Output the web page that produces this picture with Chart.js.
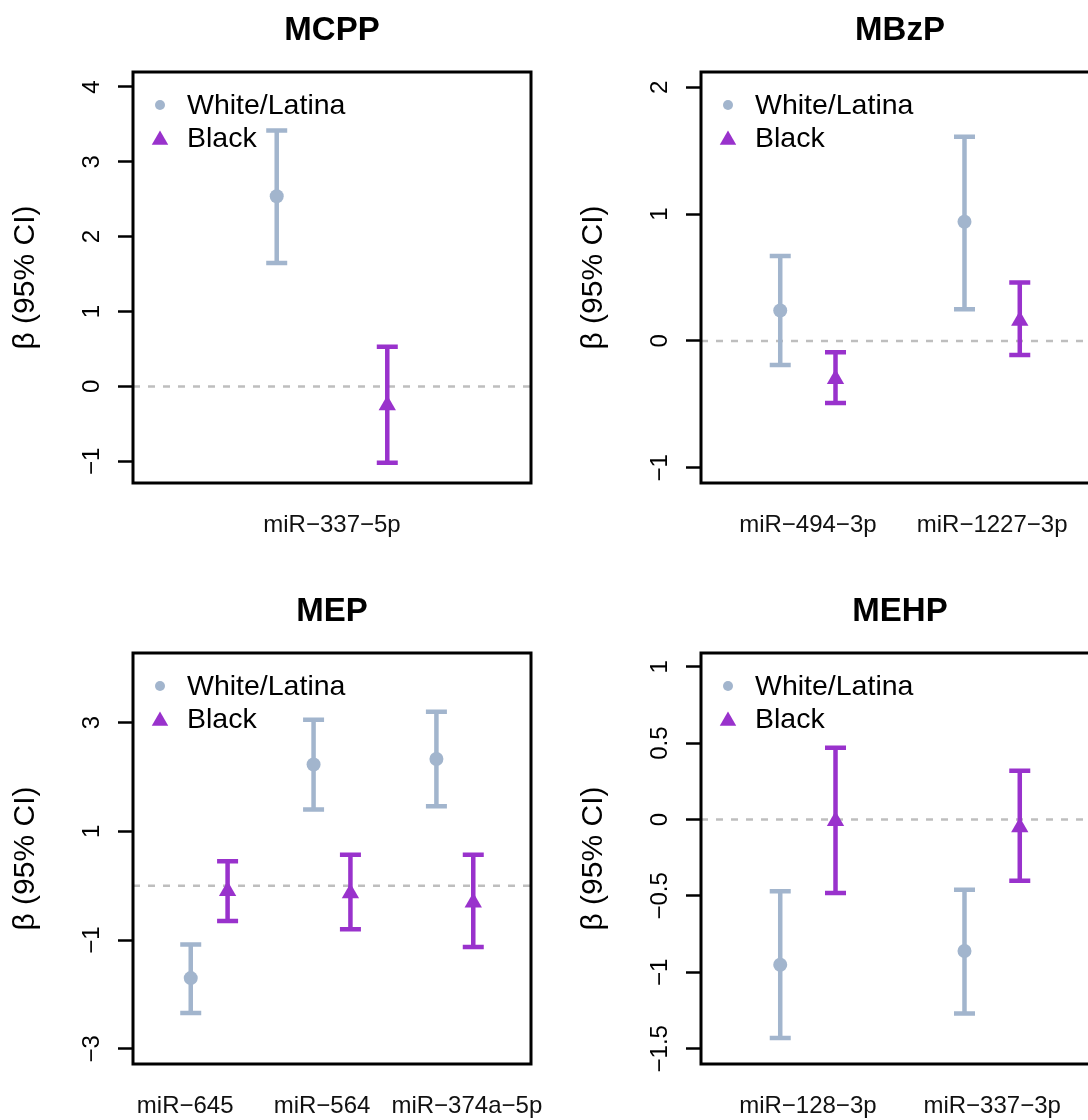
<!DOCTYPE html>
<html>
<head>
<meta charset="utf-8">
<title>miRNA associations by race</title>
<script src="https://cdn.jsdelivr.net/npm/chart.js@4.4.1/dist/chart.umd.min.js"></script>
<style>
  html, body { margin: 0; padding: 0; background: #fff; overflow: hidden; }
  #figure { position: relative; width: 1088px; height: 1120px; overflow: hidden; }
  #figure canvas { position: absolute; }
</style>
</head>
<body>
<div id="figure">
  <canvas id="mcpp" width="544" height="539" style="left:0;top:0"></canvas>
  <canvas id="mbzp" width="544" height="539" style="left:568px;top:0"></canvas>
  <canvas id="mep" width="544" height="539" style="left:0;top:581px"></canvas>
  <canvas id="mehp" width="544" height="539" style="left:568px;top:581px"></canvas>
</div>
<script>
// --- DATA ---
const seriesNames = ['White/Latina', 'Black'];

// MCPP
const mcppGenes = ['miR\u2212337\u22125p'];
const mcppWhiteEst = [2.54], mcppWhiteLo = [1.65], mcppWhiteHi = [3.42];
const mcppBlackEst = [-0.25], mcppBlackLo = [-1.02], mcppBlackHi = [0.53];
const mcppTicks = [-1, 0, 1, 2, 3, 4];
const mcppRange = [-1.29, 4.2];

// MBzP
const mbzpGenes = ['miR\u2212494\u22123p', 'miR\u22121227\u22123p'];
const mbzpWhiteEst = [0.24, 0.94], mbzpWhiteLo = [-0.19, 0.25], mbzpWhiteHi = [0.67, 1.61];
const mbzpBlackEst = [-0.30, 0.16], mbzpBlackLo = [-0.49, -0.11], mbzpBlackHi = [-0.09, 0.46];
const mbzpTicks = [-1, 0, 1, 2];
const mbzpRange = [-1.12, 2.12];

// MEP
const mepGenes = ['miR\u2212645', 'miR\u2212564', 'miR\u2212374a\u22125p'];
const mepWhiteEst = [-1.70, 2.23, 2.33], mepWhiteLo = [-2.34, 1.40, 1.46], mepWhiteHi = [-1.08, 3.05, 3.20];
const mepBlackEst = [-0.10, -0.14, -0.31], mepBlackLo = [-0.65, -0.80, -1.13], mepBlackHi = [0.45, 0.57, 0.57];
const mepTicks = [-3, -1, 1, 3];
const mepRange = [-3.28, 4.28];

// MEHP
const mehpGenes = ['miR\u2212128\u22123p', 'miR\u2212337\u22123p'];
const mehpWhiteEst = [-0.95, -0.86], mehpWhiteLo = [-1.43, -1.27], mehpWhiteHi = [-0.47, -0.46];
const mehpBlackEst = [-0.01, -0.05], mehpBlackLo = [-0.48, -0.40], mehpBlackHi = [0.47, 0.32];
const mehpTicks = [-1.5, -1, -0.5, 0, 0.5, 1];
const mehpRange = [-1.6, 1.09];

// --- STYLE ---
const FONT = "'Liberation Sans', Arial, Helvetica, sans-serif";
const WHITE_COL = '#A2B5CD';
const BLACK_COL = '#9932CC';
const DODGE = 0.15;
// the MEP gene names are spread apart in the original so they don't collide (px)
const mepLabelNudge = [-24, -10, 12];
Chart.defaults.font.family = FONT;
Chart.defaults.color = '#000';

function minusFmt(v) {
    return v < 0 ? '\u2212' + Math.abs(v) : String(v);
}

function widestLabel(labels, px) {
    const c = document.createElement('canvas').getContext('2d');
    c.font = px + 'px ' + FONT;
    return Math.max(...labels.map(l => c.measureText(l).width));
}

// zero reference line + error bars under the points
const intervals = {
    id: 'intervals',
    beforeDatasetsDraw(chart) {
        const { ctx, chartArea, scales: { x, y } } = chart;
        ctx.save();
        const y0 = y.getPixelForValue(0);
        ctx.strokeStyle = '#BEBEBE';
        ctx.lineWidth = 2.5;
        ctx.setLineDash([7, 8]);
        ctx.beginPath();
        ctx.moveTo(chartArea.left, y0);
        ctx.lineTo(chartArea.right, y0);
        ctx.stroke();
        ctx.setLineDash([]);
        ctx.lineWidth = 4.5;
        chart.data.datasets.forEach(ds => {
            ctx.strokeStyle = ds.backgroundColor;
            ds.data.forEach((pt, i) => {
                const px = x.getPixelForValue(pt.x);
                const lo = y.getPixelForValue(ds.lo[i]);
                const hi = y.getPixelForValue(ds.hi[i]);
                ctx.beginPath();
                ctx.moveTo(px, lo); ctx.lineTo(px, hi);
                ctx.moveTo(px - 10.5, lo); ctx.lineTo(px + 10.5, lo);
                ctx.moveTo(px - 10.5, hi); ctx.lineTo(px + 10.5, hi);
                ctx.stroke();
            });
        });
        ctx.restore();
    }
};

// shift x tick labels sideways (cached label items are reused by the scale's draw)
const labelNudge = {
    id: 'labelNudge',
    beforeDraw(chart, args, opts) {
        if (!opts.shift) return;
        const items = chart.scales.x.getLabelItems(chart.chartArea);
        items.forEach((it, i) => {
            if (!it._nudged) {
                it.options.translation[0] += opts.shift[i] || 0;
                it._nudged = true;
            }
        });
    }
};

// R style box and legend in the top-left corner
const frameLegend = {
    id: 'frameLegend',
    afterDatasetsDraw(chart) {
        const { ctx, chartArea: a } = chart;
        ctx.save();
        ctx.strokeStyle = '#000';
        ctx.lineWidth = 3;
        ctx.strokeRect(a.left, a.top, a.right - a.left, a.bottom - a.top);

        const mx = a.left + 27;
        ctx.fillStyle = WHITE_COL;
        ctx.beginPath();
        ctx.arc(mx, a.top + 33, 5, 0, Math.PI * 2);
        ctx.fill();
        ctx.fillStyle = BLACK_COL;
        Chart.helpers.drawPoint(ctx, { pointStyle: 'triangle', radius: 9.5, rotation: 0, borderWidth: 0 }, mx, a.top + 68);

        ctx.fillStyle = '#000';
        ctx.font = '28.5px ' + FONT;
        ctx.textBaseline = 'middle';
        ctx.textAlign = 'left';
        ctx.fillText(seriesNames[0], a.left + 54, a.top + 34);
        ctx.fillText(seriesNames[1], a.left + 54, a.top + 67);
        ctx.restore();
    }
};

function makePanel(id, title, genes, white, black, ticks, range, nudge) {
    const n = genes.length;
    const tickLabels = ticks.map(minusFmt);
    const tickPad = 26 - widestLabel(tickLabels, 24) / 2;

    return new Chart(document.getElementById(id), {
        type: 'scatter',
        data: {
            datasets: [
                {
                    label: seriesNames[0],
                    data: white.est.map((v, i) => ({ x: i + 1 - DODGE, y: v })),
                    lo: white.lo, hi: white.hi,
                    backgroundColor: WHITE_COL,
                    pointStyle: 'circle', pointRadius: 7, pointBorderWidth: 0
                },
                {
                    label: seriesNames[1],
                    data: black.est.map((v, i) => ({ x: i + 1 + DODGE, y: v })),
                    lo: black.lo, hi: black.hi,
                    backgroundColor: BLACK_COL,
                    pointStyle: 'triangle', pointRadius: 10, pointBorderWidth: 0
                }
            ]
        },
        options: {
            responsive: false,
            animation: false,
            devicePixelRatio: 1,
            layout: { autoPadding: false, padding: { top: 0, right: 13, bottom: 0, left: 0 } },
            plugins: {
                legend: { display: false },
                tooltip: { enabled: false },
                labelNudge: { shift: nudge || null },
                title: {
                    display: true, text: title, fullSize: false, color: '#000',
                    font: { size: 33, weight: 'bold' },
                    padding: { top: 11.2, bottom: 21.2 }
                }
            },
            scales: {
                x: {
                    type: 'linear',
                    min: 0.5 - 0.04 * n,
                    max: n + 0.5 + 0.04 * n,
                    afterBuildTicks: s => { s.ticks = genes.map((g, i) => ({ value: i + 1 })); },
                    afterFit: s => { s.height = 56; s.paddingLeft = 0; s.paddingRight = 0; },
                    grid: { display: false, drawTicks: false, tickLength: 0 },
                    border: { display: false },
                    ticks: {
                        autoSkip: false, maxRotation: 0, minRotation: 0,
                        padding: 27.6, color: '#111',
                        font: { size: 24 },
                        callback: (v, i) => genes[i]
                    }
                },
                y: {
                    min: range[0],
                    max: range[1],
                    afterBuildTicks: s => { s.ticks = ticks.map(v => ({ value: v })); },
                    afterFit: s => { s.width = 133; s.paddingTop = 0; s.paddingBottom = 0; },
                    grid: {
                        drawOnChartArea: false, drawTicks: true, tickLength: 15,
                        tickColor: '#000', tickWidth: 2.5
                    },
                    border: { display: false },
                    ticks: {
                        minRotation: 90, maxRotation: 90, crossAlign: 'center',
                        padding: tickPad, color: '#000',
                        font: { size: 24 },
                        callback: v => minusFmt(v)
                    },
                    title: {
                        display: true, text: '\u03B2 (95% CI)', color: '#000',
                        font: { size: 30 },
                        padding: { top: 8, bottom: 0 }
                    }
                }
            }
        },
        plugins: [labelNudge, intervals, frameLegend]
    });
}

makePanel('mcpp', 'MCPP', mcppGenes,
    { est: mcppWhiteEst, lo: mcppWhiteLo, hi: mcppWhiteHi },
    { est: mcppBlackEst, lo: mcppBlackLo, hi: mcppBlackHi }, mcppTicks, mcppRange);
makePanel('mbzp', 'MBzP', mbzpGenes,
    { est: mbzpWhiteEst, lo: mbzpWhiteLo, hi: mbzpWhiteHi },
    { est: mbzpBlackEst, lo: mbzpBlackLo, hi: mbzpBlackHi }, mbzpTicks, mbzpRange);
makePanel('mep', 'MEP', mepGenes,
    { est: mepWhiteEst, lo: mepWhiteLo, hi: mepWhiteHi },
    { est: mepBlackEst, lo: mepBlackLo, hi: mepBlackHi }, mepTicks, mepRange, mepLabelNudge);
makePanel('mehp', 'MEHP', mehpGenes,
    { est: mehpWhiteEst, lo: mehpWhiteLo, hi: mehpWhiteHi },
    { est: mehpBlackEst, lo: mehpBlackLo, hi: mehpBlackHi }, mehpTicks, mehpRange);
</script>
</body>
</html>
